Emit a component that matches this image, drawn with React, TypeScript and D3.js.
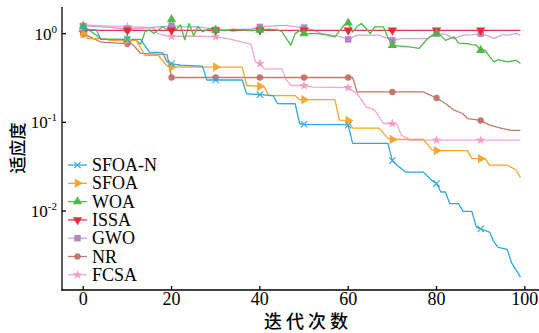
import React, { useEffect, useRef } from 'react';
import * as d3 from 'd3';

// convergence data: [iteration, fitness]
const sfoaN: [number, number][] = [
  [0, 1.12], [3, 1.1], [4, 0.86], [10, 0.86], [13, 0.86], [15, 0.62], [18, 0.61], [19, 0.48], [20, 0.46],
  [22, 0.44], [27, 0.43], [28, 0.3], [30, 0.3], [36, 0.3], [37, 0.21], [40, 0.205], [43, 0.2], [44, 0.163],
  [48, 0.162], [49, 0.097], [50, 0.095], [59, 0.094], [60, 0.093], [61, 0.058], [69, 0.058], [70, 0.037],
  [71, 0.033], [73, 0.0275], [77, 0.0275], [79, 0.022], [80, 0.0204], [81, 0.0164], [82, 0.0164], [83, 0.0121],
  [85, 0.0121], [86, 0.0099], [88, 0.0099], [89, 0.0066], [90, 0.0063], [92, 0.0058], [93, 0.0045], [94, 0.0039],
  [96, 0.0037], [97, 0.0026], [99, 0.0018],
];
const sfoa: [number, number][] = [
  [0, 1.0], [1, 0.88], [5, 0.88], [6, 0.84], [10, 0.84], [12, 0.84], [14, 0.57], [17, 0.57], [19, 0.43], [20, 0.42],
  [30, 0.42], [36, 0.42], [37, 0.26], [40, 0.255], [41, 0.25], [42, 0.2], [48, 0.2], [49, 0.18], [50, 0.18],
  [57, 0.18], [58, 0.106], [60, 0.105], [61, 0.086], [67, 0.086], [69, 0.066], [70, 0.064], [77, 0.064],
  [79, 0.049], [80, 0.048], [87, 0.048], [88, 0.039], [90, 0.039], [91, 0.039], [92, 0.033], [96, 0.033],
  [98, 0.029], [99, 0.024],
];
const woa: [number, number][] = [
  [0, 1.2], [1, 1.12], [3, 0.96], [4, 0.86], [10, 0.86], [12, 0.84], [13, 0.76], [14, 1.05], [15, 1.1], [16, 1.0],
  [17, 1.1], [18, 1.2], [19, 1.1], [20, 1.45], [21, 1.1], [22, 1.25], [23, 0.85], [24, 1.3], [25, 0.95], [26, 1.2],
  [27, 1.05], [28, 1.1], [29, 1.15], [30, 1.1], [32, 1.08], [34, 1.12], [36, 1.1], [38, 1.08], [40, 1.1],
  [42, 1.12], [44, 1.1], [45, 1.05], [47, 0.74], [48, 1.0], [49, 1.08], [50, 1.0], [53, 1.0], [55, 0.97],
  [57, 0.92], [59, 1.24], [60, 1.32], [61, 1.04], [62, 1.2], [63, 1.3], [64, 1.15], [65, 1.0], [66, 1.19],
  [68, 1.19], [69, 0.9], [70, 0.74], [72, 0.72], [74, 0.71], [76, 0.68], [78, 0.88], [79, 0.96], [80, 1.0],
  [81, 0.95], [82, 0.84], [83, 0.88], [84, 0.92], [85, 0.78], [87, 0.77], [88, 0.75], [89, 0.74], [90, 0.65],
  [91, 0.65], [92, 0.55], [93, 0.48], [94, 0.51], [96, 0.48], [98, 0.5], [99, 0.46],
];
const issa: [number, number][] = [
  [0, 1.02], [1, 1.09], [10, 1.09], [20, 1.09], [30, 1.09], [40, 1.09], [50, 1.09], [60, 1.09], [70, 1.09],
  [80, 1.09], [90, 1.09], [99, 1.09],
];
const gwo: [number, number][] = [
  [0, 1.22], [3, 1.2], [6, 1.18], [8, 1.15], [10, 1.12], [13, 1.15], [16, 1.18], [18, 1.2], [20, 1.22], [23, 1.19],
  [26, 1.2], [28, 1.15], [30, 1.1], [32, 1.1], [34, 1.06], [36, 1.12], [38, 1.12], [40, 1.19], [43, 1.22],
  [46, 1.24], [48, 1.2], [50, 1.17], [52, 1.1], [54, 1.0], [56, 0.97], [58, 0.93], [60, 0.86], [62, 0.96],
  [65, 0.96], [67, 0.96], [70, 0.84], [72, 0.88], [78, 0.88], [80, 1.0], [82, 0.98], [84, 0.88], [86, 0.96],
  [88, 0.97], [90, 1.0], [92, 0.93], [93, 0.88], [95, 0.98], [96, 0.96], [98, 1.0], [99, 0.96],
];
const nr: [number, number][] = [
  [0, 1.0], [3, 0.85], [4, 0.8], [10, 0.77], [11, 0.77], [13, 0.6], [19, 0.58], [20, 0.32], [30, 0.32], [40, 0.32],
  [50, 0.32], [60, 0.32], [61, 0.32], [62, 0.22], [70, 0.22], [77, 0.22], [80, 0.188], [82, 0.163], [84, 0.137],
  [86, 0.125], [87, 0.11], [90, 0.105], [92, 0.093], [95, 0.085], [97, 0.081], [99, 0.081],
];
const fcsa: [number, number][] = [
  [0, 1.25], [5, 1.22], [10, 1.2], [14, 1.18], [16, 1.15], [17, 1.0], [19, 0.94], [20, 0.93], [25, 0.94], [30, 0.92],
  [33, 0.87], [36, 0.8], [38, 0.76], [39, 0.48], [40, 0.46], [41, 0.4], [45, 0.4], [46, 0.3], [47, 0.26], [50, 0.26],
  [52, 0.25], [60, 0.246], [62, 0.21], [63, 0.18], [64, 0.15], [66, 0.137], [68, 0.097], [70, 0.097], [71, 0.095],
  [72, 0.072], [74, 0.063], [80, 0.063], [90, 0.063], [99, 0.063],
];

const seriesNames = ['SFOA-N', 'SFOA', 'WOA', 'ISSA', 'GWO', 'NR', 'FCSA'];
const seriesData = [sfoaN, sfoa, woa, issa, gwo, nr, fcsa];
const lineColors = ['#2aaae2', '#f9a42c', '#52b84a', '#ee3344', '#cfa6dc', '#c4786e', '#f5a6cd'];
const markerColors = ['#2aaae2', '#f9a42c', '#4cb544', '#ee2233', '#b37fc4', '#c0726a', '#f29ac6'];
const markerIters = [0, 10, 20, 30, 40, 50, 60, 70, 80, 90];
const xTicks = [0, 20, 40, 60, 80, 100];
const yTicks = [1, 0.1, 0.01];
const yTickExp = ['0', '-1', '-2'];

const W = 539;
const H = 333;
const SERIF = '"Liberation Serif", "Times New Roman", serif';
const CJK = '"Noto Sans CJK SC", sans-serif';

const markerPath = (i: number) => {
  const types = [d3.symbolX, d3.symbolTriangle, d3.symbolTriangle, d3.symbolTriangle, d3.symbolSquare, d3.symbolCircle, d3.symbolStar];
  const sizes = [28, 38, 38, 38, 42, 32, 30];
  return d3.symbol().type(types[i]).size(sizes[i])() as string;
};
const markerRot = [0, 90, 0, 180, 0, 0, 0];

const App: React.FC = () => {
  const svgRef = useRef<SVGSVGElement>(null);

  useEffect(() => {
    if (!svgRef.current) return;
    const svg = d3.select(svgRef.current);
    svg.selectAll('*').remove();

    const left = 62, bottom = 290, top = 7, right = W;
    const x = d3.scaleLinear().domain([-4.8, 103.2]).range([left, right]);
    const y = d3.scaleLog().domain([Math.pow(10, -2.89), Math.pow(10, 0.3)]).range([bottom, top]);

    const line = d3.line<[number, number]>()
      .x(d => x(d[0]))
      .y(d => y(d[1]));

    const drawMarker = (g: any, i: number, cx: number, cy: number) => {
      const m = g.append('path')
        .attr('d', markerPath(i))
        .attr('transform', `translate(${cx},${cy}) rotate(${markerRot[i]})`);
      if (i === 0) {
        m.attr('fill', 'none').attr('stroke', markerColors[i]).attr('stroke-width', 1.1);
      } else {
        m.attr('fill', markerColors[i]).attr('stroke', 'none').attr('opacity', 0.95);
      }
    };

    // lines, drawn back to front
    const order = [6, 5, 4, 3, 2, 1, 0];
    order.forEach(i => {
      svg.append('path')
        .datum(seriesData[i])
        .attr('d', line)
        .attr('fill', 'none')
        .attr('stroke', lineColors[i])
        .attr('stroke-width', 1.3)
        .attr('stroke-linejoin', 'round');
    });
    order.forEach(i => {
      const g = svg.append('g');
      seriesData[i]
        .filter(d => markerIters.includes(d[0]))
        .forEach(d => drawMarker(g, i, x(d[0]), y(d[1])));
    });

    // axes
    const axis = svg.append('g').attr('stroke', '#000').attr('stroke-width', 1.3);
    axis.append('line').attr('x1', left).attr('x2', left).attr('y1', top).attr('y2', bottom + 0.6);
    axis.append('line').attr('x1', left - 0.6).attr('x2', right).attr('y1', bottom).attr('y2', bottom);

    xTicks.forEach(t => {
      axis.append('line').attr('x1', x(t)).attr('x2', x(t)).attr('y1', bottom).attr('y2', bottom - 4);
      svg.append('text')
        .attr('x', x(t)).attr('y', bottom + 15)
        .attr('text-anchor', 'middle')
        .attr('font-family', SERIF).attr('font-size', 18)
        .text(`${t}`);
    });

    yTicks.forEach((t, k) => {
      axis.append('line').attr('x1', left).attr('x2', left + 4).attr('y1', y(t)).attr('y2', y(t));
      const txt = svg.append('text')
        .attr('x', 57).attr('y', y(t) + 6)
        .attr('text-anchor', 'end')
        .attr('font-family', SERIF).attr('font-size', 17);
      txt.append('tspan').text('10');
      txt.append('tspan').attr('dy', -7).attr('font-size', 11).text(yTickExp[k]);
    });

    // axis titles
    svg.append('text')
      .attr('transform', `translate(24,148) rotate(-90)`)
      .attr('text-anchor', 'middle')
      .attr('font-family', CJK).attr('font-size', 17).attr('font-weight', 500)
      .text('适应度');
    svg.append('text')
      .attr('x', 308).attr('y', 328)
      .attr('text-anchor', 'middle')
      .attr('font-family', CJK).attr('font-size', 18).attr('font-weight', 500)
      .attr('letter-spacing', 4)
      .text('迭代次数');

    // legend
    const lg = svg.append('g');
    seriesNames.forEach((name, i) => {
      const cy = 165 + i * 18.3;
      lg.append('line')
        .attr('x1', 68).attr('x2', 87).attr('y1', cy).attr('y2', cy)
        .attr('stroke', lineColors[i]).attr('stroke-width', 1.3);
      drawMarker(lg, i, 77.5, cy);
      lg.append('text')
        .attr('x', 92).attr('y', cy + 6)
        .attr('font-family', SERIF).attr('font-size', 18)
        .text(name);
    });
  }, []);

  return (
    <svg
      ref={svgRef}
      width={W}
      height={H}
      style={{ position: 'absolute', left: 0, top: 0, background: '#fff' }}
    />
  );
};

export default App;
